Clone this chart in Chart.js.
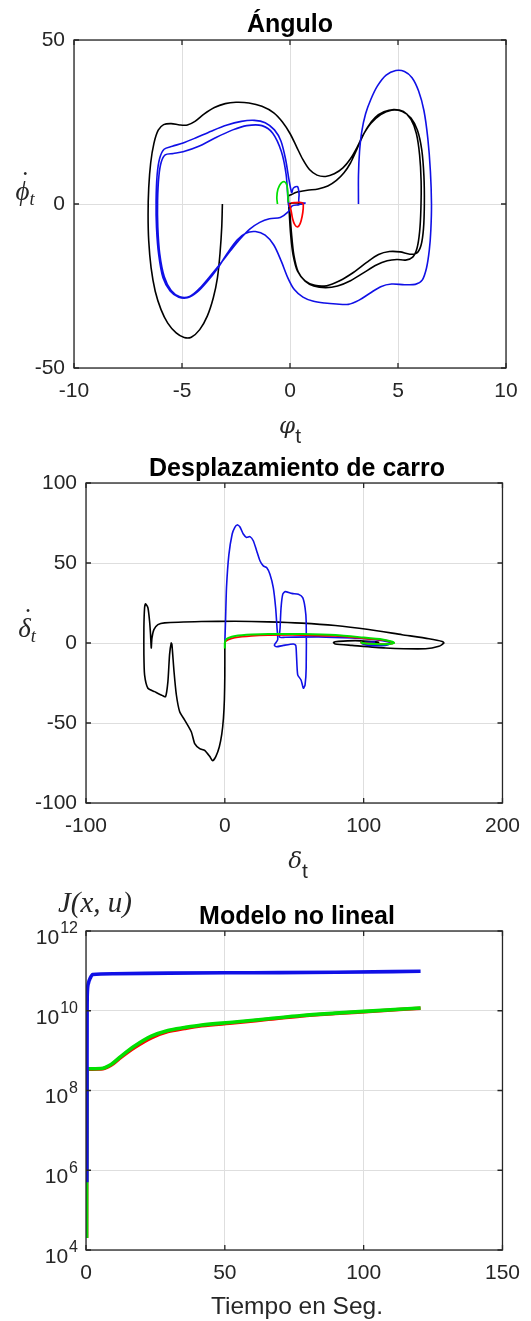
<!DOCTYPE html>
<html lang="es">
<head>
<meta charset="UTF-8" />
<title>Ángulo / Desplazamiento de carro / Modelo no lineal</title>
<script src="https://cdn.jsdelivr.net/npm/chart.js"></script>
<style>
  html, body { margin: 0; padding: 0; background: #fff; }
  #page { position: relative; width: 531px; height: 1321px; overflow: hidden;
          font-family: "Liberation Sans", Arial, sans-serif; }
  .box { position: absolute; left: 0; width: 531px; }
  .lbl { position: absolute; transform: translate(-50%, -50%); white-space: nowrap; color: #262626; line-height: 1; }
  .title { font-weight: bold; font-size: 25px; color: #000; }
  .tex { font-family: "Liberation Serif", "DejaVu Serif", serif; font-style: italic; font-size: 27px; }
  .tex sub { font-size: 68%; vertical-align: -0.25em; }
  .acc { position: relative; display: inline-block; }
  .acc .dot { position: absolute; left: 0.2em; top: -0.38em; font-style: normal; }
  .sym { font-family: "DejaVu Serif", serif; font-style: italic; font-size: 23px; }
  .sym sub { font-family: "Liberation Sans", Arial, sans-serif; font-style: normal; font-size: 21px; vertical-align: -0.45em; }
  .xl { font-size: 24.5px; }
  .big { font-size: 29px; }
</style>
</head>
<body>
<div id="page">
  <div class="box" style="top:0;height:410px"><canvas id="angChart"></canvas></div>
  <div class="box" style="top:420px;height:420px"><canvas id="carChart"></canvas></div>
  <div class="box" style="top:880px;height:441px"><canvas id="costChart"></canvas></div>

  <div class="lbl title" style="left:290px;top:23px">Ángulo</div>
  <div class="lbl tex" style="left:25px;top:193px"><span class="acc">ϕ<span class="dot">˙</span></span><sub>t</sub></div>
  <div class="lbl sym" style="left:290px;top:430px">φ<sub>t</sub></div>

  <div class="lbl title" style="left:297px;top:467px">Desplazamiento de carro</div>
  <div class="lbl tex" style="left:27px;top:630px"><span class="acc">δ<span class="dot">˙</span></span><sub>t</sub></div>
  <div class="lbl sym" style="left:298px;top:865px">δ<sub>t</sub></div>

  <div class="lbl tex big" style="left:95px;top:902px">J(x, u)</div>
  <div class="lbl title" style="left:297px;top:915px">Modelo no lineal</div>
  <div class="lbl xl" style="left:297px;top:1306px">Tiempo en Seg.</div>
</div>

<script>
// ---- Ángulo (phi vs phi dot) ----
const angBlackX = [-3.13, -3.16, -3.24, -3.36, -3.55, -3.83, -4.18, -4.57, -4.9, -5.27, -5.66, -5.97, -6.24, -6.43, -6.54, -6.57, -6.54, -6.45, -6.3, -6.1,
  -5.85, -5.5, -5.1, -4.75, -4.4, -4.0, -3.5, -3.0, -2.5, -1.9, -1.3, -0.75, -0.35, 0, 0.3, 0.6, 0.9, 1.25, 1.65, 2.05,
  2.45, 2.8, 3.1, 3.4, 3.75, 4.2, 4.7, 5.2, 5.6, 5.9, 6.1, 6.2, 6.22, 6.18, 6.07, 5.88, 5.55, 5.1, 4.6, 4.1,
  3.55, 2.95, 2.3, 1.7, 1.15, 0.7, 0.35, 0.14, 0.03, -0.03, -0.07, -0.06, 0.05, 0.3, 0.8, 1.3, 1.75, 2.15, 2.5, 2.8,
  3.05, 3.3, 3.6, 3.95, 4.35, 4.8, 5.25, 5.6, 5.85, 6.0, 6.07, 6.06, 6.0, 5.88, 5.68, 5.35, 4.95, 4.5, 4.0, 3.4,
  2.8, 2.2, 1.65, 1.1, 0.7, 0.38, 0.18, 0.07, 0.0, -0.02, 0.3, 0.6, 0.35];
const angBlackY = [0, -7, -15, -22.5, -28.6, -34.2, -38.3, -40.6, -40.7, -39.3, -36.3, -32.2, -26.6, -19.5, -11.3, -3.2, 5, 12.5, 18.5, 22.5,
  24.2, 24.5, 24.1, 24.1, 25.2, 27.3, 29.4, 30.6, 31.0, 30.8, 29.8, 27.8, 25, 21.5, 17.5, 13.5, 10.5, 8.8, 8.4, 9.2,
  11, 13.8, 17.2, 21.2, 24.6, 27.3, 28.6, 28.2, 26.2, 22.5, 16.5, 8.5, 0, -7.5, -12.5, -14.9, -15.3, -14.6, -14.5, -15.4,
  -17.8, -20.8, -23.4, -24.9, -24.8, -23.4, -20.5, -15.4, -9.3, -3.2, 0.9, 2.5, 2.8, 3.6, 4.2, 4.6, 5.5, 7.2, 9.5, 12.5,
  16, 19.8, 23.5, 26.4, 28.1, 28.8, 28.2, 25.8, 21.5, 15, 7, -1.5, -8.5, -13.5, -16.2, -17.1, -16.9, -17.3, -18.6, -21,
  -23.4, -25, -25.5, -25, -23.5, -20.7, -15.6, -9, -3, 0, 0.3, 0.2, -0.2];

const angBlueX = [3.17, 3.17, 3.22, 3.32, 3.5, 3.75, 4.05, 4.45, 4.9, 5.3, 5.65, 5.95, 6.2, 6.38, 6.5, 6.55, 6.52, 6.45, 6.32, 6.12,
  5.8, 5.3, 4.7, 4.2, 3.7, 3.2, 2.7, 2.15, 1.6, 1.05, 0.6, 0.2, -0.1, -0.4, -0.75, -1.15, -1.6, -2.05, -2.45, -2.9,
  -3.35, -3.85, -4.3, -4.75, -5.15, -5.55, -5.88, -6.08, -6.18, -6.2, -6.15, -6.03, -5.83, -5.45, -4.95, -4.35, -3.65, -2.95, -2.25, -1.65,
  -1.15, -0.72, -0.42, -0.2, -0.05, 0.08, 0.15, 0.35, 0.42, 0.42, 0.7, 0.4, 0.1, -0.1, -0.45, -0.95, -1.4, -1.85, -2.3, -2.75,
  -3.2, -3.7, -4.2, -4.65, -5.1, -5.5, -5.82, -6.03, -6.12, -6.13, -6.07, -5.96, -5.78, -5.4, -4.95, -4.25, -3.45, -2.65, -2.0, -1.3,
  -0.8, -0.4, -0.18, -0.1, -0.05];
const angBlueY = [0, 8.8, 16, 22, 27.5, 32, 36, 39.3, 40.7, 40.4, 38.5, 34.5, 28.5, 20, 10, 0, -8, -14, -19.5, -23.2,
  -24.5, -24.6, -24.4, -25.2, -27.2, -29.3, -30.6, -30.5, -30.2, -29.6, -28.4, -26.1, -22.5, -17.5, -12.5, -9.5, -8.4, -8.9, -11, -15,
  -19.6, -23.8, -26.9, -28.6, -28.4, -26.5, -22.5, -15.4, -7.2, 0.9, 9, 14, 16.7, 17.6, 18.6, 20.2, 22.2, 24, 25.2, 25.5,
  24.8, 22.6, 19.2, 13.5, 7.5, 3.5, 4.8, 5.3, 3, 0.5, 0.3, -0.2, -0.6, -2.5, -4.1, -4.5, -5.6, -7.6, -10.6, -14.2,
  -18, -22, -25.8, -28.2, -28.3, -26.4, -22.2, -15.2, -7, 1, 8.5, 12.8, 15, 15.4, 15.9, 17.5, 20.2, 22.6, 23.9, 23.9,
  21.6, 16, 9, 2, -1];

const angRedX = [-0.03, 0.05, 0.12, 0.22, 0.35, 0.47, 0.56, 0.61, 0.6, 0.45, 0.2, 0.05];
const angRedY = [0.2, -2, -4.5, -6.3, -7, -6, -3.8, -1.5, 0.2, 0.5, 0.4, 0.3];

const angGreenX = [-0.58, -0.61, -0.56, -0.42, -0.25, -0.14, -0.1, -0.08];
const angGreenY = [0, 2, 4.5, 6.3, 6.8, 5.6, 3.2, 0.5];

const angTicksX = [-10, 10, 5];   // min, max, step
const angTicksY = [-50, 50, 50];

// ---- Desplazamiento de carro (delta vs delta dot) ----
const carBlackX = [0, 0, -0.3, -1, -2.2, -4, -6.5, -8.8, -10.8, -14.5, -18.1, -21.7, -24.1, -28.9, -32.5, -34.9, -36.6, -38.1, -38.6, -39.8,
  -41, -42.7, -45.8, -50.6, -55.4, -57.8, -58.3, -58.3, -57.8, -57.1, -55.4, -54.2, -53.5, -53, -52.5, -51.1, -48.2, -43.4, -16.9, 7.2,
  31.3, 55.4, 79.5, 103.6, 127.7, 147, 156.6, 157.8, 154.2, 144.6, 115.7, 91.6, 79.5, 78.3, 81.9, 94, 103.6, 110.8, 108.4, 98.8];
const carBlackY = [0, -20, -35, -47, -57, -65, -71, -73.6, -71, -67.1, -66, -62.9, -55.6, -48.2, -43, -32.5, -17.8, -1, 0, -7.3,
  -24.1, -33.5, -32.5, -30.4, -28.3, -19.9, -7.3, 9.4, 22, 24.5, 22, 13.6, 5.2, -3.1, 3.1, 8.4, 11.5, 12.6, 13.4, 13.6,
  13.2, 12.4, 10.9, 8.4, 5.2, 2.7, 1, 0, -2.1, -3.6, -3.1, -1.5, -0.6, 0.4, 1, 1.5, 1, 0.4, -0.2, 0];

const carBlueX = [0, 0.5, 1.2, 2.9, 5.3, 7.2, 8.9, 10.8, 13.3, 15.7, 18.1, 20.5, 22.9, 25.3, 27.7, 30.1, 32.5, 34.9, 36.6, 37.6,
  38.1, 36.1, 35.7, 37.3, 42.2, 49.4, 51.1, 51.6, 52.5, 54.9, 56.6, 57.8, 58.6, 58.6, 57.8, 56.1, 53, 48.2, 43.4, 41.7,
  40.5, 39.8, 39.5, 43.4, 67.5, 91.6, 108.4, 118.1, 119.3, 115.7, 103.6, 98.8, 101.2, 108.4];
const carBlueY = [0, 13.6, 34.6, 55.1, 68.1, 72.3, 73.8, 72.7, 68.1, 66, 66.5, 63.9, 57.7, 51.4, 48.2, 47.2, 43, 34.6, 22, 9.4,
  2.1, -0.6, -1.5, -2.3, -1.5, -0.6, -1.5, -7.3, -19.9, -23.1, -28.3, -26.2, -15.7, 13.6, 22, 28.3, 30.4, 31, 32.1, 30.4,
  22, 9.4, 3.6, 3.6, 3.8, 3.1, 2.1, 0.6, -0.4, -1.5, -1.5, -0.4, 0.4, 0.6];

const carRedX = [0, 0.5, 2.4, 7.2, 19.3, 31.3, 55.4, 79.5, 98.8, 113.3, 120.5, 121.7, 118.1, 108.4, 98.8, 97.6];
const carRedY = [0, 1, 2.1, 3.4, 4.5, 4.9, 5, 4.4, 3, 1.9, 0.6, 0, -0.6, -0.6, 0, 0.5];

const carGreenX = [0, 0, 0.6, 2.6, 7.5, 19.5, 31.5, 55.6, 79.7, 99, 113.5, 120.7, 121.9, 118.3, 108.6, 99, 97.8];
const carGreenY = [-3.5, 0, 1.8, 3.2, 4.4, 5.3, 5.7, 5.6, 5, 3.5, 2.2, 0.8, 0, -0.7, -0.7, 0, 0.6];

const carTicksX = [-100, 200, 100];
const carTicksY = [-100, 100, 50];

// ---- Modelo no lineal (J(x,u) vs tiempo) ----
const costRedT = [0.2, 0.3, 0.6, 5.4, 9, 12.7, 17.5, 23.5, 29.5, 35.5, 41.6, 53.6, 65.7, 77.7, 89.8, 101.8, 120.5];
const costRedJ = [2e4, 3.4e8, 3.42e8, 3.45e8, 4.3e8, 6.9e8, 1.2e9, 2.1e9, 3.0e9, 3.6e9, 4.2e9, 5.0e9, 6.1e9, 7.4e9, 8.5e9, 9.6e9, 1.16e10];

const costGreenT = [0.2, 0.3, 0.6, 5.4, 9, 12.7, 17.5, 23.5, 29.5, 35.5, 41.6, 53.6, 65.7, 77.7, 89.8, 101.8, 120.5];
const costGreenJ = [2e4, 3.47e8, 3.5e8, 3.55e8, 4.5e8, 7.3e8, 1.3e9, 2.3e9, 3.2e9, 3.8e9, 4.4e9, 5.2e9, 6.3e9, 7.6e9, 8.7e9, 9.8e9, 1.17e10];

const costBlueT = [0.3, 0.35, 0.4, 0.5, 0.9, 1.5, 2.4, 10, 30, 60, 90, 120.5];
const costBlueJ = [5e5, 1e8, 1e10, 3e10, 5e10, 6.5e10, 8.1e10, 8.5e10, 8.8e10, 9.0e10, 9.2e10, 9.8e10];

const costTicksX = [0, 150, 50];
const costTicksY = [1e4, 1e6, 1e8, 1e10, 1e12];
const costTickExp = ['4', '6', '8', '10', '12'];

// ---------------------------------------------------------------
const TXT = '#262626';
const GRID = '#dedede';
const FAM = '"Liberation Sans", Arial, sans-serif';
const tickFont = { family: FAM, size: 21 };
const BLUE = '#1010e6', RED = '#ff0000', GREEN = '#00e000', BLACK = '#000000';

const pts = (xs, ys) => xs.map((x, i) => ({ x: x, y: ys[i] }));

// MATLAB-like box with inward tick marks on all four sides
const boxTicks = {
  id: 'boxTicks',
  afterDraw(chart) {
    const { ctx, chartArea: a, scales } = chart;
    ctx.save();
    ctx.strokeStyle = TXT;
    ctx.lineWidth = 1.3;
    ctx.strokeRect(a.left, a.top, a.right - a.left, a.bottom - a.top);
    ctx.beginPath();
    scales.x.ticks.forEach(t => {
      const p = scales.x.getPixelForValue(t.value);
      ctx.moveTo(p, a.bottom); ctx.lineTo(p, a.bottom - 5);
      ctx.moveTo(p, a.top); ctx.lineTo(p, a.top + 5);
    });
    scales.y.ticks.forEach(t => {
      const p = scales.y.getPixelForValue(t.value);
      ctx.moveTo(a.left, p); ctx.lineTo(a.left + 5, p);
      ctx.moveTo(a.right, p); ctx.lineTo(a.right - 5, p);
    });
    ctx.stroke();
    ctx.restore();
  }
};

// 10^n labels with a raised exponent for the log axis
const powerLabels = {
  id: 'powerLabels',
  afterDraw(chart) {
    const { ctx, chartArea: a, scales } = chart;
    const y = scales.y;
    ctx.save();
    ctx.fillStyle = TXT;
    ctx.textBaseline = 'middle';
    costTicksY.forEach((v, i) => {
      const p = y.getPixelForValue(v);
      const right = a.left - 8;
      ctx.font = '16px ' + FAM;
      ctx.textAlign = 'right';
      const ew = ctx.measureText(costTickExp[i]).width;
      ctx.fillText(costTickExp[i], right, p - 2);
      ctx.font = '21px ' + FAM;
      ctx.fillText('10', right - ew - 1, p + 7);
    });
    ctx.restore();
  }
};

function line(data, color, width, tension) {
  return { data: data, showLine: true, borderColor: color, borderWidth: width,
           pointRadius: 0, tension: tension, fill: false };
}

function makeChart(id, area, boxH, datasets, xAxis, yAxis, extra) {
  return new Chart(document.getElementById(id), {
    type: 'scatter',
    data: { datasets: datasets },
    options: {
      animation: false,
      responsive: true,
      maintainAspectRatio: false,
      layout: { padding: { top: area.top, right: 531 - area.right, left: 0, bottom: 0 } },
      plugins: { legend: { display: false }, tooltip: { enabled: false } },
      scales: {
        x: Object.assign({
          grid: { color: GRID, drawTicks: false },
          border: { display: false },
          afterFit: s => { s.height = boxH - area.bottom; }
        }, xAxis),
        y: Object.assign({
          grid: { color: GRID, drawTicks: false },
          border: { display: false },
          afterFit: s => { s.width = area.left; }
        }, yAxis)
      }
    },
    plugins: [boxTicks].concat(extra || [])
  });
}

function linAxis(t, pad) {
  return { type: 'linear', min: t[0], max: t[1],
           ticks: { stepSize: t[2], color: TXT, font: tickFont, padding: pad, maxRotation: 0 } };
}

makeChart('angChart', { left: 74, top: 40, right: 506, bottom: 368 }, 410, [
  line(pts(angGreenX, angGreenY), GREEN, 1.7, 0.3),
  line(pts(angRedX, angRedY), RED, 1.7, 0.3),
  line(pts(angBlueX, angBlueY), BLUE, 1.6, 0.3),
  line(pts(angBlackX, angBlackY), BLACK, 1.6, 0.3)
], linAxis(angTicksX, 11), linAxis(angTicksY, 9));

makeChart('carChart', { left: 86, top: 63, right: 508, bottom: 383 }, 420, [
  line(pts(carGreenX, carGreenY), GREEN, 2, 0.2),
  line(pts(carRedX, carRedY), RED, 1.8, 0.2),
  line(pts(carBlueX, carBlueY), BLUE, 1.6, 0.2),
  line(pts(carBlackX, carBlackY), BLACK, 1.6, 0.2)
], linAxis(carTicksX, 11), linAxis(carTicksY, 9));

const costLine = (t, j, color) => Object.assign(line(pts(t, j), color, 3.6, 0), { cubicInterpolationMode: 'monotone' });

makeChart('costChart', { left: 86, top: 51, right: 508, bottom: 370 }, 441, [
  costLine(costBlueT, costBlueJ, BLUE),
  costLine(costGreenT, costGreenJ, GREEN),
  costLine(costRedT, costRedJ, RED)
], linAxis(costTicksX, 11), {
  type: 'logarithmic', min: costTicksY[0], max: costTicksY[costTicksY.length - 1],
  afterBuildTicks: s => { s.ticks = costTicksY.map(v => ({ value: v })); },
  ticks: { display: false }
}, [powerLabels]);
</script>
</body>
</html>
